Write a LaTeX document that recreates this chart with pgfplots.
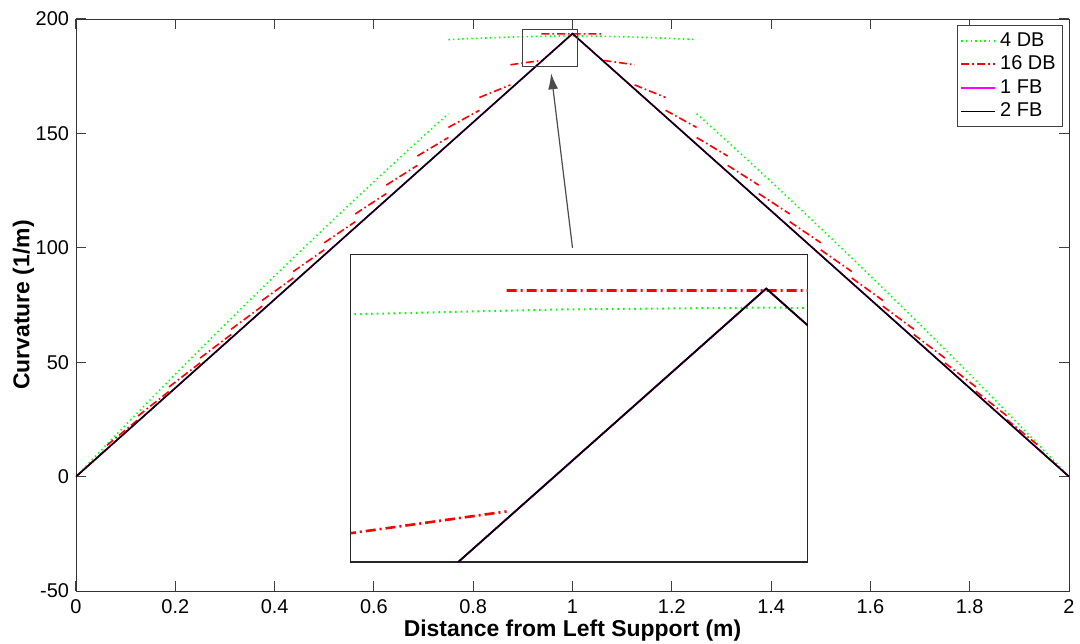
\documentclass[border=0pt]{standalone}
\usepackage{pgfplots}
\pgfplotsset{compat=1.18}
\usepackage{pgfplotstable}
\usepackage{fontspec}
\setmainfont{Liberation Sans}
\usetikzlibrary{arrows.meta}

\pgfplotstableread{
x y
0 0
0.05 11.35
0.1 22.58
0.15 33.71
0.2 44.72
0.25 55.63
0.3 66.42
0.35 77.11
0.4 87.68
0.45 98.15
0.5 108.5
0.55 118.75
0.6 128.88
0.65 138.91
0.7 148.82
0.75 158.63
0.75 nan
0.75 191.0
0.8 191.5
0.85 191.9
0.9 192.25
0.95 192.5
1.0 192.6
1.05 192.5
1.1 192.25
1.15 191.9
1.2 191.5
1.25 191.0
1.25 nan
1.25 158.63
1.3 148.82
1.35 138.91
1.4 128.88
1.45 118.75
1.5 108.5
1.55 98.15
1.6 87.68
1.65 77.11
1.7 66.42
1.75 55.63
1.8 44.72
1.85 33.71
1.9 22.58
1.95 11.35
2.0 0
}\greentab

\pgfplotstableread{
x y
0 0
0.0625 12.3
0.0625 nan
0.0625 13.7
0.125 24.9
0.125 nan
0.125 26.5
0.1875 37.3
0.1875 nan
0.1875 39.2
0.25 49.7
0.25 nan
0.25 51.8
0.3125 62.1
0.3125 nan
0.3125 64.4
0.375 74.5
0.375 nan
0.375 77.0
0.4375 86.8
0.4375 nan
0.4375 89.6
0.5 99.1
0.5 nan
0.5 102.2
0.5625 111.4
0.5625 nan
0.5625 114.8
0.625 123.7
0.625 nan
0.625 127.4
0.6875 136.0
0.6875 nan
0.6875 140.1
0.75 148.2
0.75 nan
0.75 152.6
0.8125 160.1
0.8125 nan
0.8125 165.7
0.875 171.2
0.875 nan
0.875 180.0
0.9375 181.9
0.9375 nan
0.9375 193.5
1.0625 193.5
1.0625 nan
1.0625 181.9
1.125 180.0
1.125 nan
1.125 171.2
1.1875 165.7
1.1875 nan
1.1875 160.1
1.25 152.6
1.25 nan
1.25 148.2
1.3125 140.1
1.3125 nan
1.3125 136.0
1.375 127.4
1.375 nan
1.375 123.7
1.4375 114.8
1.4375 nan
1.4375 111.4
1.5 102.2
1.5 nan
1.5 99.1
1.5625 89.6
1.5625 nan
1.5625 86.8
1.625 77.0
1.625 nan
1.625 74.5
1.6875 64.4
1.6875 nan
1.6875 62.1
1.75 51.8
1.75 nan
1.75 49.7
1.8125 39.2
1.8125 nan
1.8125 37.3
1.875 26.5
1.875 nan
1.875 24.9
1.9375 13.7
1.9375 nan
1.9375 12.3
2.0 0
}\redtab

\pgfplotstableread{
x y
0 0
1 193.6
2 0
}\magtab

\pgfplotstableread{
x y
0 0
1 193.6
2 0
}\blacktab

\definecolor{mgreen}{rgb}{0,1,0}
\definecolor{mred}{rgb}{1,0,0}
\definecolor{mmag}{rgb}{1,0,1}

\tikzset{
  gstyle/.style={color=mgreen, line width=0.8bp, dash pattern=on 0.7bp off 1.6bp},
  rstyle/.style={color=mred, line width=0.8bp, dash pattern=on 4bp off 1.5bp on 0.8bp off 1.5bp},
}

\begin{document}
\begin{tikzpicture}
\begin{axis}[
  name=main,
  at={(0,0)}, anchor=south west,
  scale only axis,
  width=496.5bp, height=286bp,
  xmin=0, xmax=2, ymin=-50, ymax=200,
  xtick={0,0.2,0.4,0.6,0.8,1,1.2,1.4,1.6,1.8,2},
  xticklabels={0,0.2,0.4,0.6,0.8,1,1.2,1.4,1.6,1.8,2},
  ytick={-50,0,50,100,150,200},
  yticklabels={-50,0,50,100,150,200},
  tick align=inside,
  major tick length=5bp,
  axis line style={black!80},
  every tick/.style={black!75, line width=0.5bp},
  tick label style={font=\fontsize{10}{12}\selectfont, black},
  xticklabel style={yshift=-1bp},
  xlabel={\bfseries Distance from Left Support (m)},
  ylabel={\bfseries Curvature (1/m)},
  label style={font=\fontsize{11.5}{13}\selectfont},
  xlabel style={yshift=4bp},
  ylabel style={yshift=-6bp},
  unbounded coords=jump,
  clip=true,
  legend style={at={(1,1)}, anchor=north east, xshift=-3bp, yshift=-3bp,
    draw=black!75, font=\fontsize{10}{12}\selectfont, inner sep=1.5bp,
    row sep=-0.6bp, cells={anchor=west}},
  legend cell align=left,
]
\addplot[gstyle] table[x=x,y=y] {\greentab};
\addplot[rstyle] table[x=x,y=y] {\redtab};
\addplot[color=mmag, line width=0.8bp] table[x=x,y=y] {\magtab};
\addplot[color=black, line width=0.8bp] table[x=x,y=y] {\blacktab};
\legend{4 DB,16 DB,1 FB,2 FB}
\draw[black!75, line width=0.6bp] (axis cs:0.9,179.25) rectangle (axis cs:1.01,195.4);
\draw[black!70, line width=0.6bp, -{Latex[length=8bp,width=5bp]}] (axis cs:1.0,100) -- (axis cs:0.957,176.3);
\end{axis}

\begin{axis}[
  at={(137.35bp,14.5bp)}, anchor=south west,
  scale only axis,
  width=228.5bp, height=153.85bp,
  xmin=0.9, xmax=1.01, ymin=179.25, ymax=195.4,
  xtick=\empty, ytick=\empty,
  axis line style={black!85, line width=0.6bp},
  axis background/.style={fill=white},
  unbounded coords=jump,
]
\addplot[color=mgreen, line width=1bp, dash pattern=on 0.8bp off 2bp] table[x=x,y=y] {\greentab};
\addplot[color=mred, line width=1.3bp, dash pattern=on 5bp off 2bp on 1bp off 2bp] table[x=x,y=y] {\redtab};
\addplot[color=mmag, line width=0.9bp] table[x=x,y=y] {\magtab};
\addplot[color=black, line width=0.9bp] table[x=x,y=y] {\blacktab};
\end{axis}

\pgfresetboundingbox
\path[use as bounding box] (-38bp,-26.5bp) rectangle (502bp,295.5bp);
\end{tikzpicture}
\end{document}
